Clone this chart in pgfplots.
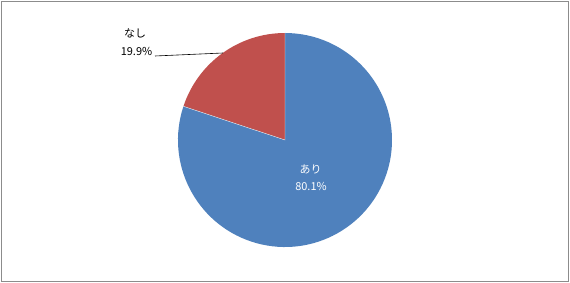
\documentclass[border=0pt]{standalone}
\usepackage{pgfplots}
\pgfplotsset{compat=1.18}
\usepackage{pgfplotstable}
\usepackage{fontspec}
\setmainfont{Noto Sans CJK JP}
\definecolor{pieblue}{HTML}{4F81BD}
\definecolor{piered}{HTML}{C0504D}
\definecolor{frame}{HTML}{8C8C8C}
\pgfplotstableread{
label value
あり 80.1
なし 19.9
}\piedata
\begin{document}
\begin{tikzpicture}
\pgfplotstablegetelem{0}{value}\of\piedata \let\va\pgfplotsretval
\pgfplotstablegetelem{1}{value}\of\piedata \let\vb\pgfplotsretval
\pgfmathsetmacro{\aEnd}{90+3.6*\vb}
\begin{axis}[
  width=570bp, height=282bp, scale only axis,
  xmin=0, xmax=570, ymin=0, ymax=282,
  hide axis, clip=false,
]
\path (axis cs:0,0) rectangle (axis cs:570,282);
\draw[frame, line width=0.8pt] (axis cs:1,1) rectangle (axis cs:568.5,281);
% slices
\fill[piered] (axis cs:285,142) -- (axis cs:285,249) arc[start angle=90, end angle=\aEnd, radius=107bp] -- cycle;
\fill[pieblue] (axis cs:285,142) -- ++(\aEnd:107bp) arc[start angle=\aEnd, end angle=450, radius=107bp] -- cycle;
\draw[white!85!gray, line width=0.4pt] (axis cs:285,249) -- (axis cs:285,142) -- ++(\aEnd:107bp);
% leader line
\draw[black, line width=0.6pt] (axis cs:155,226) -- (axis cs:223,229);
% labels
\node[font=\fontsize{11}{13}\selectfont, inner sep=0] at (axis cs:135,248.5) {\pgfplotstablegetelem{1}{label}\of\piedata\pgfplotsretval};
\node[font=\fontsize{11}{13}\selectfont, inner sep=0] at (axis cs:136.5,230.5) {\vb\%};
\node[font=\fontsize{11}{13}\selectfont, inner sep=0, text=white] at (axis cs:310.5,112.5) {\pgfplotstablegetelem{0}{label}\of\piedata\pgfplotsretval};
\node[font=\fontsize{11}{13}\selectfont, inner sep=0, text=white] at (axis cs:311,96) {\va\%};
\end{axis}
\end{tikzpicture}
\end{document}
